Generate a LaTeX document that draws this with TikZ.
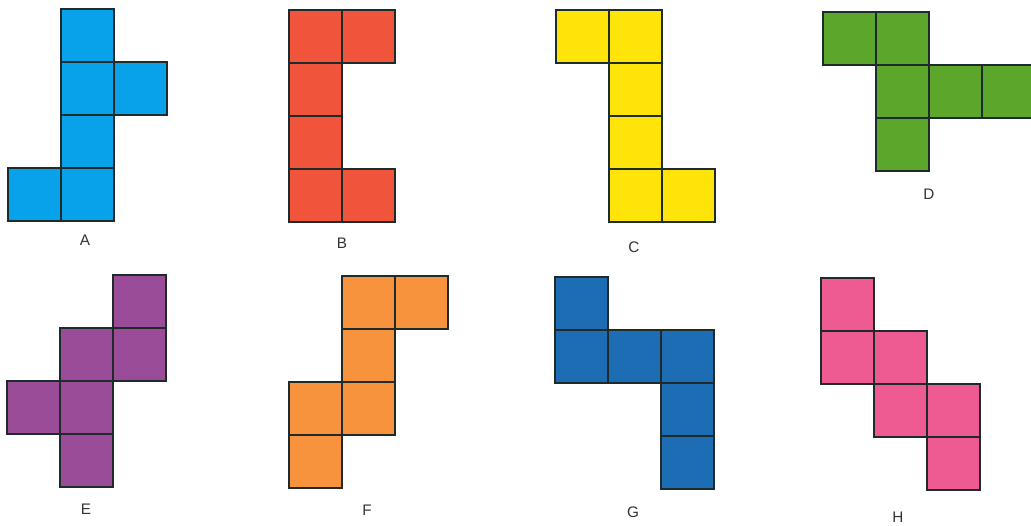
\documentclass[tikz,border=0pt]{standalone}
\usepackage{xcolor}
\usepackage{fontspec}
\setmainfont{Liberation Sans}
\usepackage{tikz}
\usetikzlibrary{positioning}

\definecolor{netline}{HTML}{1F2B2B}
\definecolor{labelgray}{HTML}{333333}
\definecolor{netA}{HTML}{08A2EA}
\definecolor{netB}{HTML}{F0553B}
\definecolor{netC}{HTML}{FFE40A}
\definecolor{netD}{HTML}{5DA62C}
\definecolor{netE}{HTML}{9B4C98}
\definecolor{netF}{HTML}{F7933C}
\definecolor{netG}{HTML}{1C6DB3}
\definecolor{netH}{HTML}{EE5B92}

\begin{document}
\begin{tikzpicture}[x=0.02cm, y=-0.02cm, node distance=0cm,
  face/.style={rectangle, draw=netline, line width=1.1pt, minimum size=1.06cm, inner sep=0pt, outer sep=0pt},
  tag/.style={font=\fontsize{8.7}{10}\selectfont, text=labelgray, inner sep=0pt}]
\useasboundingbox[fill=white] (0,0) rectangle (1031,525);
% net A
\node[face, fill=netA] (a1) at (87.5,35.5) {};
\node[face, fill=netA, below=of a1] (a2) {};
\node[face, fill=netA, right=of a2] (a3) {};
\node[face, fill=netA, below=of a2] (a4) {};
\node[face, fill=netA, below=of a4] (a5) {};
\node[face, fill=netA, left=of a5] (a6) {};
\node[tag] (la) at (85,240) {A};
% net B
\node[face, fill=netB] (b1) at (315.5,36.5) {};
\node[face, fill=netB, right=of b1] (b2) {};
\node[face, fill=netB, below=of b1] (b3) {};
\node[face, fill=netB, below=of b3] (b4) {};
\node[face, fill=netB, below=of b4] (b5) {};
\node[face, fill=netB, right=of b5] (b6) {};
\node[tag] (lb) at (342,243) {B};
% net C
\node[face, fill=netC] (c1) at (582.5,36.5) {};
\node[face, fill=netC, right=of c1] (c2) {};
\node[face, fill=netC, below=of c2] (c3) {};
\node[face, fill=netC, below=of c3] (c4) {};
\node[face, fill=netC, below=of c4] (c5) {};
\node[face, fill=netC, right=of c5] (c6) {};
\node[tag] (lc) at (634,247) {C};
% net D
\node[face, fill=netD] (d1) at (849.5,38.5) {};
\node[face, fill=netD, right=of d1] (d2) {};
\node[face, fill=netD, below=of d2] (d3) {};
\node[face, fill=netD, right=of d3] (d4) {};
\node[face, fill=netD, right=of d4] (d5) {};
\node[face, fill=netD, below=of d3] (d6) {};
\node[tag] (ld) at (929,194) {D};
% net E
\node[face, fill=netE] (e1) at (139.5,301.5) {};
\node[face, fill=netE, below=of e1] (e2) {};
\node[face, fill=netE, left=of e2] (e3) {};
\node[face, fill=netE, below=of e3] (e4) {};
\node[face, fill=netE, left=of e4] (e5) {};
\node[face, fill=netE, below=of e4] (e6) {};
\node[tag] (le) at (86,509) {E};
% net F
\node[face, fill=netF] (f1) at (368.5,302.5) {};
\node[face, fill=netF, right=of f1] (f2) {};
\node[face, fill=netF, below=of f1] (f3) {};
\node[face, fill=netF, below=of f3] (f4) {};
\node[face, fill=netF, left=of f4] (f5) {};
\node[face, fill=netF, below=of f5] (f6) {};
\node[tag] (lf) at (367,510) {F};
% net G
\node[face, fill=netG] (g1) at (581.5,303.5) {};
\node[face, fill=netG, below=of g1] (g2) {};
\node[face, fill=netG, right=of g2] (g3) {};
\node[face, fill=netG, right=of g3] (g4) {};
\node[face, fill=netG, below=of g4] (g5) {};
\node[face, fill=netG, below=of g5] (g6) {};
\node[tag] (lg) at (633,512) {G};
% net H
\node[face, fill=netH] (h1) at (847.5,304.5) {};
\node[face, fill=netH, below=of h1] (h2) {};
\node[face, fill=netH, right=of h2] (h3) {};
\node[face, fill=netH, below=of h3] (h4) {};
\node[face, fill=netH, right=of h4] (h5) {};
\node[face, fill=netH, below=of h5] (h6) {};
\node[tag] (lh) at (898,517) {H};
\end{tikzpicture}
\end{document}
